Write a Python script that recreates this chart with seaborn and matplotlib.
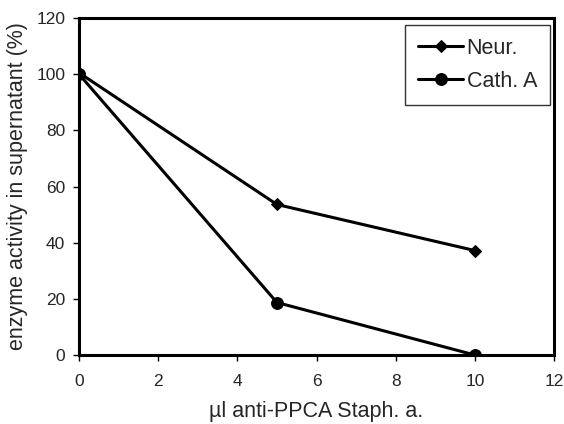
import matplotlib
matplotlib.use('Agg')
import matplotlib.pyplot as plt
import seaborn as sns
import pandas as pd

volume = [0, 5, 10]
neur = [100.5, 53.6, 37.2]
cath_a = [100, 18.7, 0]

sns.set_style('white')
plt.rcParams['font.family'] = ['Liberation Sans', 'DejaVu Sans']

frame = pd.DataFrame({
    'x': volume * 2,
    'y': neur + cath_a,
    'series': ['Neur.'] * 3 + ['Cath. A'] * 3,
})

fig = plt.figure(figsize=(5.64, 4.24), dpi=100)
ax = fig.add_axes([0.1401, 0.1627, 0.8422, 0.7948])

sns.lineplot(data=frame, x='x', y='y', hue='series', style='series',
             markers={'Neur.': 'D', 'Cath. A': 'o'}, dashes=False,
             palette={'Neur.': 'black', 'Cath. A': 'black'},
             linewidth=2.2, markeredgecolor='black', ax=ax)
for line in ax.lines:
    if line.get_marker() == 'D':
        line.set_markersize(6)
    else:
        line.set_markersize(8.5)

ax.set_xlim(0, 12)
ax.set_ylim(0, 120)
ax.set_xticks(range(0, 13, 2))
ax.set_yticks(range(0, 121, 20))
ax.tick_params(direction='out', length=4, width=1, labelsize=12.5,
               left=True, bottom=True, color='black')
ax.tick_params(axis='x', pad=10)
ax.tick_params(axis='y', pad=6)
for s in ax.spines.values():
    s.set_linewidth(2.2)
    s.set_color('black')

ax.set_xlabel('\u00b5l anti-PPCA Staph. a.', fontsize=15.5, labelpad=8)
ax.set_ylabel('enzyme activity in supernatant (%)', fontsize=15.5)
ax.yaxis.set_label_coords(-0.107, 0.5)

leg = ax.legend(loc='upper right', fontsize=15.5, frameon=True, fancybox=False,
                edgecolor='black', handlelength=2.1, borderpad=0.6,
                labelspacing=0.55, handletextpad=0.15, borderaxespad=0,
                bbox_to_anchor=(0.9916, 0.979))
leg.get_frame().set_linewidth(1)
for h in leg.legend_handles:
    if h.get_marker() == 'D':
        h.set_markersize(6)
    else:
        h.set_markersize(8.5)

fig.savefig('out.png', dpi=100)
